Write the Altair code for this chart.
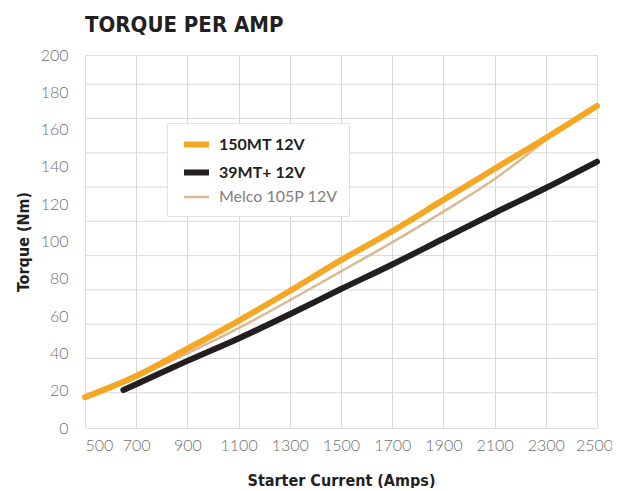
import altair as alt
import pandas as pd

# ---- data ----
amps_150 = [500, 700, 900, 1100, 1300, 1500, 1700, 1900, 2100, 2300, 2500]
torque_150 = [16.5, 27.9, 42.5, 57.5, 73.5, 90.0, 105.5, 122.3, 139.0, 155.5, 172.7]

amps_39 = [650, 700, 900, 1100, 1300, 1500, 1700, 1900, 2100, 2300, 2500]
torque_39 = [20.4, 23.5, 36.0, 48.0, 61.0, 74.5, 87.7, 101.5, 115.3, 128.7, 142.8]

amps_melco = [500, 700, 900, 1100, 1300, 1500, 1700, 1900, 2100, 2300]
torque_melco = [16.5, 27.5, 40.0, 53.5, 68.5, 84.0, 99.5, 116.0, 133.5, 154.5]

series_names = ["150MT 12V", "39MT+ 12V", "Melco 105P 12V"]
series_colors = ["#f5a623", "#231f20", "#d9b991"]
series_widths = [6, 6, 2.5]

x_ticks = [500, 700, 900, 1100, 1300, 1500, 1700, 1900, 2100, 2300, 2500]
y_ticks = [0, 20, 40, 60, 80, 100, 120, 140, 160, 180, 200]
grid_lines = [20, 40, 60, 80, 100, 120, 140, 160, 180, 200]

# draw order: Melco underneath, then 39MT+, then 150MT on top
rows = []
for a, t in zip(amps_melco, torque_melco):
    rows.append({"series": "Melco 105P 12V", "amps": a, "torque": t})
for a, t in zip(amps_39, torque_39):
    rows.append({"series": "39MT+ 12V", "amps": a, "torque": t})
for a, t in zip(amps_150, torque_150):
    rows.append({"series": "150MT 12V", "amps": a, "torque": t})
df = pd.DataFrame(rows)
grid_df = pd.DataFrame({"g": grid_lines})

label_font = "Lato"
cond_font = "DejaVu Sans Condensed, Liberation Sans Narrow, Roboto"

grid = alt.Chart(grid_df).mark_rule(color="#d9d9d9", strokeWidth=1).encode(
    y=alt.Y("g:Q", scale=alt.Scale(domain=[0, 220], range=[372, -5], nice=False), axis=None)
)

base = alt.Chart(df)
color_scale = alt.Scale(domain=series_names, range=series_colors)
width_scale = alt.Scale(type="ordinal", domain=series_names, range=series_widths)

x_enc = alt.X(
    "amps:Q",
    scale=alt.Scale(domain=[500, 2500], nice=False, zero=False),
    axis=alt.Axis(
        values=x_ticks, format="d", labelOverlap=False, labelFlush=False,
        labelAlign={"condition": {"test": "datum.value <= 500", "value": "left"}, "value": "center"},
        labelOffset={"condition": {"test": "datum.value >= 2500", "value": -3}, "value": 0},
        title="Starter Current (Amps)", grid=True,
        gridColor="#d9d9d9",
        gridOpacity={"condition": {"test": "datum.value <= 500 || datum.value >= 2500", "value": 0}, "value": 1},
        domain=False, ticks=False, tickSize=0, labelPadding=9,
        labelFont=label_font, labelFontWeight=300, labelFontSize=16, labelColor="#6f6f6f",
        titleFont=cond_font, titleFontWeight="bold", titleFontSize=16, titleColor="#231f20",
        titlePadding=19,
    ),
)
y_enc = alt.Y(
    "torque:Q",
    scale=alt.Scale(domain=[0, 200], nice=False),
    axis=alt.Axis(
        values=y_ticks, title="Torque (Nm)", grid=False,
        domain=False, ticks=False, tickSize=0, labelPadding=17,
        labelFont=label_font, labelFontWeight=300, labelFontSize=16, labelColor="#6f6f6f",
        titleFont=cond_font, titleFontWeight="bold", titleFontSize=16, titleColor="#231f20",
        titlePadding=9,
    ),
)

lines = base.mark_line(strokeCap="round", strokeJoin="round", interpolate="monotone").encode(
    x=x_enc,
    y=y_enc,
    color=alt.Color(
        "series:N", scale=color_scale, sort=series_names,
        legend=alt.Legend(
            orient="none", legendX=82, legendY=68, title=None,
            labelFont=label_font, labelFontSize=16,
            labelFontWeight=alt.ExprRef("datum.label == 'Melco 105P 12V' ? 400 : 700"),
            labelColor=alt.ExprRef("datum.label == 'Melco 105P 12V' ? '#808080' : '#231f20'"),
            symbolType="M-0.6,0L2.73,0", symbolSize=225,
            symbolStrokeWidth=alt.ExprRef("datum.value == 'Melco 105P 12V' ? 2.5 : 6"),
            strokeColor="#e3e3e3", fillColor="white", padding=11, rowPadding=3,
            labelOffset=20,
        ),
    ),
    strokeWidth=alt.StrokeWidth("series:N", scale=width_scale, legend=None),
    detail="series:N",
)

chart = alt.layer(grid, lines).resolve_scale(y="independent").properties(
    width=512,
    height=373,
    padding={"left": 77, "top": 47, "right": 15, "bottom": 60},
    autosize=alt.AutoSizeParams(type="none"),
    title=alt.TitleParams(
        "TORQUE PER AMP", font=cond_font, fontSize=22, fontWeight="bold",
        color="#231f20", anchor="start", frame="group", baseline="alphabetic", offset=-7,
    ),
).configure_view(stroke=None).configure(background="white")

chart.save("out.html", embed_options={"renderer": "svg", "actions": False})
